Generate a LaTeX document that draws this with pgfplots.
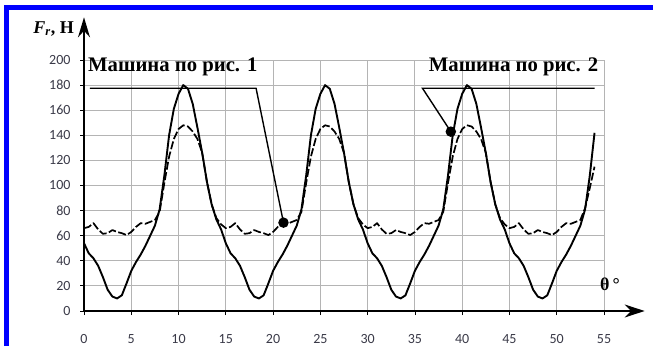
\documentclass[border=0pt]{standalone}
\usepackage{fontspec}
\setmainfont{Liberation Serif}
\newfontfamily\carlito{Carlito}
\usepackage{pgfplots}
\pgfplotsset{compat=1.18}
\usetikzlibrary{arrows.meta}
\definecolor{tickc}{HTML}{3A3A48}
\definecolor{gridc}{HTML}{B4B4B4}
\begin{document}
\begin{tikzpicture}
\useasboundingbox (0bp,0bp) rectangle (653bp,346bp);
\fill[white] (0bp,0bp) rectangle (653bp,346bp);
\fill[blue] (4bp,0bp) rectangle (9bp,341bp);
\fill[blue] (4bp,336bp) rectangle (653bp,341bp);
\begin{axis}[
  at={(84bp,35bp)}, anchor=south west,
  scale only axis, width=520bp, height=251bp,
  xmin=0, xmax=55, ymin=0, ymax=200,
  xtick={0,5,...,55}, ytick={0,20,...,200},
  grid=major, grid style={gridc, line width=0.9bp},
  axis line style={draw=none},
  xtick pos=left, ytick pos=left,
  tick align=outside, major tick length=4bp,
  tick style={black, line width=0.8bp},
  /pgf/number format/assume math mode=true,
  ticklabel style={font=\carlito\fontsize{14bp}{16bp}\selectfont, text=tickc},
  xticklabel style={anchor=center, inner sep=0pt, yshift=-24bp},
  yticklabel style={xshift=-6bp},
  clip=false,
]
% dashed curve (machine fig. 2)
\addplot[black, line width=1.7bp, dash pattern=on 8bp off 2.5bp, line join=round] table {
0 66
0.5 67
1 70
1.5 65
2 61.5
2.5 62
3 64.5
3.5 63
4 62
4.5 60.5
5 63
5.5 67
6 70
6.5 69.5
7 71
7.5 72.5
8 79
8.5 102
9 123
9.5 137
10 145
10.5 148
11 147
11.5 143
12 137
12.5 126
13 103
13.5 85
14 74
14.5 69
15 66
15.5 67
16 70
16.5 65
17 61.5
17.5 62
18 64.5
18.5 63
19 62
19.5 60.5
20 63
20.5 67
21 70
21.5 69.5
22 71
22.5 72.5
23 79
23.5 102
24 123
24.5 137
25 145
25.5 148
26 147
26.5 143
27 137
27.5 126
28 103
28.5 85
29 74
29.5 69
30 66
30.5 67
31 70
31.5 65
32 61.5
32.5 62
33 64.5
33.5 63
34 62
34.5 60.5
35 63
35.5 67
36 70
36.5 69.5
37 71
37.5 72.5
38 79
38.5 102
39 123
39.5 137
40 145
40.5 148
41 147
41.5 143
42 137
42.5 126
43 103
43.5 85
44 74
44.5 69
45 66
45.5 67
46 70
46.5 65
47 61.5
47.5 62
48 64.5
48.5 63
49 62
49.5 60.5
50 63
50.5 67
51 70
51.5 69.5
52 71
52.5 72.5
53 82
53.5 98
54 115
};
% solid curve (machine fig. 1)
\addplot[black, line width=1.9bp, line join=round] table {
0 54
0.5 46
1 42
1.5 36
2 27
2.5 17
3 11.5
3.5 10
4 12.5
4.5 22
5 32
5.5 39
6 45
6.5 52
7 60
7.5 68
8 81
8.5 108
9 140
9.5 161
10 173
10.5 180
11 177
11.5 165
12 146
12.5 126
13 103
13.5 85
14 73
14.5 65
15 54
15.5 46
16 42
16.5 36
17 27
17.5 17
18 11.5
18.5 10
19 12.5
19.5 22
20 32
20.5 39
21 45
21.5 52
22 60
22.5 68
23 81
23.5 108
24 140
24.5 161
25 173
25.5 180
26 177
26.5 165
27 146
27.5 126
28 103
28.5 85
29 73
29.5 65
30 54
30.5 46
31 42
31.5 36
32 27
32.5 17
33 11.5
33.5 10
34 12.5
34.5 22
35 32
35.5 39
36 45
36.5 52
37 60
37.5 68
38 81
38.5 108
39 140
39.5 161
40 173
40.5 180
41 177
41.5 165
42 146
42.5 126
43 103
43.5 85
44 73
44.5 65
45 54
45.5 46
46 42
46.5 36
47 27
47.5 17
48 11.5
48.5 10
49 12.5
49.5 22
50 32
50.5 39
51 45
51.5 52
52 60
52.5 68
53 81
53.5 108
54 142
};
% leader lines
\addplot[black, line width=1.4bp, mark=*, mark size=4.5bp, mark indices={3}] coordinates {(0.63,177.5) (18.2,177.5) (21.1,70.4)};
\addplot[black, line width=1.4bp, mark=*, mark size=4.5bp, mark indices={3}] coordinates {(54.0,177.5) (35.8,177.5) (38.8,142.9)};
% axes arrows
\draw[black, line width=1.6bp, -{Stealth[length=20bp, width=13bp]}] (axis cs:0,0) -- (axis cs:59.3,0);
\draw[black, line width=1.6bp, -{Stealth[length=20bp, width=12bp]}] (axis cs:0,0) -- (axis cs:0,234);
% texts
\node[anchor=base west, inner sep=0, font=\bfseries\fontsize{20.7bp}{23bp}\selectfont] at (axis cs:0.42,191.2) {Машина по рис. 1};
\node[anchor=base east, inner sep=0, font=\bfseries\fontsize{20.7bp}{23bp}\selectfont] at (axis cs:54.4,191.2) {Машина по рис. 2};
\node[anchor=base west, inner sep=0, font=\bfseries\fontsize{18bp}{20bp}\selectfont] at (axis cs:-5.37,221.3) {\textit{F}\textsubscript{\textit{r}}, Н};
\node[anchor=base west, inner sep=0, font=\bfseries\fontsize{18bp}{20bp}\selectfont] at (axis cs:54.57,16.2) {θ\,°};
\end{axis}
\end{tikzpicture}
\end{document}
